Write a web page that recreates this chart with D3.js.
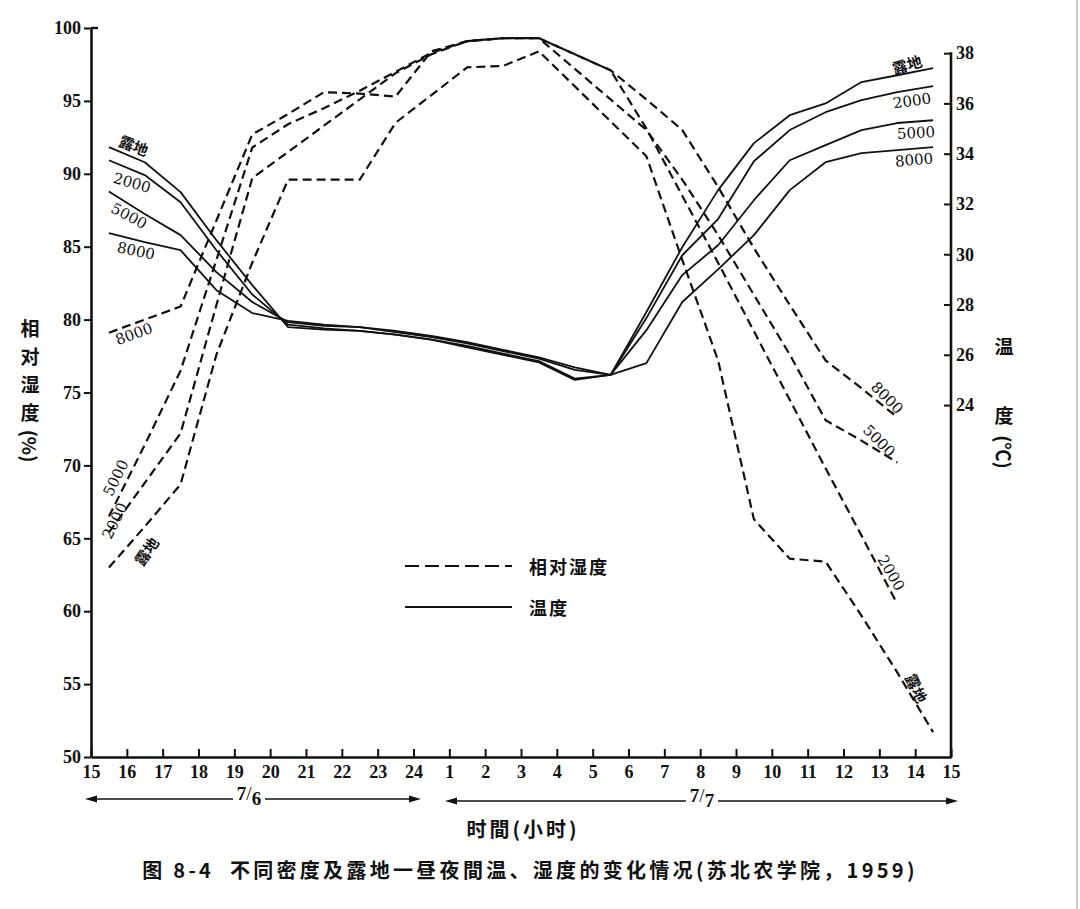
<!DOCTYPE html>
<html>
<head>
<meta charset="utf-8">
<script src="https://cdn.jsdelivr.net/npm/d3@7"></script>
<style>
  body { margin: 0; background: #fff; }
  svg { display: block; }
</style>
</head>
<body>
<div id="chart"></div>
<script>
// Observation times, hours after 15:00 on 7/6 (readings at half past each hour)
const hourOffsets = [0.5, 1.5, 2.5, 3.5, 4.5, 5.5, 6.5, 7.5, 8.5, 9.5, 10.5, 11.5,
                     12.5, 13.5, 14.5, 15.5, 16.5, 17.5, 18.5, 19.5, 20.5, 21.5, 22.5, 23.5];
const xTicks = [0, 1, 2, 3, 4, 5, 6, 7, 8, 9, 10, 11, 12, 13, 14, 15, 16, 17, 18, 19, 20, 21, 22, 23, 24];
const humTicks = [50, 55, 60, 65, 70, 75, 80, 85, 90, 95, 100];
const tempTicks = [24, 26, 28, 30, 32, 34, 36, 38];

// relative humidity (%), dashed
const humOpen = [63.0, 65.8, 68.7, 77.6, 83.9, 89.6, 89.6, 89.6, 93.5, 95.4, 97.3, 97.4,
                 98.4, 96.0, 93.6, 91.2, 84.1, 77.2, 66.3, 63.6, 63.4, 59.7, 55.8, 51.7];
const hum2000 = [65.4, 68.8, 72.2, 81.0, 89.7, 91.5, 93.3, 95.1, 96.9, 98.2, 99.1, 99.3,
                 99.3, 98.2, 97.1, 93.1, 88.5, 83.9, 79.2, 74.5, 69.8, 65.2, 60.5, null];
const hum5000 = [66.5, 71.4, 76.5, 84.1, 91.8, 93.4, 94.5, 95.7, 97.0, 98.3, 99.1, 99.3,
                 99.3, 97.2, 95.1, 93.0, 89.6, 85.8, 81.7, 77.6, 73.1, 71.7, 70.2, null];
const hum8000 = [79.1, 80.0, 80.9, 86.8, 92.7, 94.1, 95.6, 95.5, 95.3, 98.4, 99.1, 99.3,
                 99.3, 98.2, 97.1, 95.1, 93.0, 89.1, 84.9, 81.0, 77.2, 75.3, 73.3, null];

// temperature (°C), solid
const tempOpen = [34.26, 33.66, 32.47, 30.56, 28.77, 27.1, 27.0, 26.95, 26.8, 26.6, 26.3, 26.0,
                  25.7, 25.0, 25.2, 27.7, 30.28, 32.55, 34.42, 35.53, 36.0, 36.85, 37.12, 37.4];
const temp2000 = [33.74, 33.15, 32.07, 30.16, 28.4, 27.2, 27.05, 26.95, 26.8, 26.6, 26.35, 26.05,
                  25.75, 25.05, 25.2, 27.46, 29.96, 31.4, 33.7, 34.94, 35.65, 36.13, 36.45, 36.69];
const temp5000 = [32.5, 31.6, 30.76, 29.29, 28.1, 27.3, 27.15, 27.1, 26.9, 26.7, 26.45, 26.15,
                  25.85, 25.4, 25.2, 26.98, 29.17, 30.36, 32.15, 33.74, 34.34, 34.94, 35.22, 35.33];
const temp8000 = [30.84, 30.48, 30.16, 28.57, 27.66, 27.35, 27.2, 27.1, 26.95, 26.75, 26.5, 26.2,
                  25.9, 25.5, 25.2, 25.67, 28.1, 29.4, 30.76, 32.55, 33.66, 34.02, 34.14, 34.26];

const humiditySeries = [humOpen, hum2000, hum5000, hum8000];
const temperatureSeries = [tempOpen, temp2000, temp5000, temp8000];

// curve labels: [text, x, y, rotation]
const curveLabels = [
  ["露地", 134, 145, 22], ["2000", 132, 183, 16], ["5000", 129, 216, 28], ["8000", 136, 251, 12],
  ["8000", 134, 334, -20], ["5000", 116, 478, -64], ["2000", 115, 521, -64], ["露地", 146, 551, -55],
  ["露地", 907, 64, -16], ["2000", 912, 101, -8], ["5000", 916, 133, -3], ["8000", 914, 160, -5],
  ["8000", 887, 398, 45], ["5000", 879, 441, 45], ["2000", 891, 573, 60], ["露地", 917, 688, 65]
];

const serif = "'Liberation Serif', 'DejaVu Serif', serif";
const labelSerif = "'DejaVu Serif', 'Liberation Serif', serif";
const cjk = "'Noto Sans CJK SC', 'Noto Sans', sans-serif";
const ink = "#111";

const svg = d3.select("#chart").append("svg")
  .attr("width", 1080)
  .attr("height", 909)
  .style("background", "#fff");

const x = d3.scaleLinear().domain([0, 24]).range([91, 951]);
const yHum = d3.scaleLinear().domain([50, 100]).range([757, 28]);
const yTemp = d3.scaleLinear().domain([10, 39]).range([757, 28]);

function styleTicks(g) {
  g.selectAll(".tick line").attr("stroke", ink).attr("stroke-width", 2);
  g.selectAll(".tick text")
    .attr("fill", ink)
    .style("font-family", serif)
    .style("font-weight", "bold")
    .style("font-size", "18px");
}

// left axis (humidity)
svg.append("g")
  .attr("transform", "translate(91,0)")
  .call(d3.axisLeft(yHum).tickValues(humTicks).tickSize(7).tickPadding(3).tickSizeOuter(0))
  .call(g => g.select(".domain").attr("stroke", ink).attr("stroke-width", 2.6))
  .call(styleTicks);

svg.append("line")
  .attr("x1", 91).attr("x2", 98).attr("y1", yHum(100)).attr("y2", yHum(100))
  .attr("stroke", ink).attr("stroke-width", 2.4);

// bottom axis (time)
svg.append("g")
  .attr("transform", "translate(0,757)")
  .call(d3.axisBottom(x).tickValues(xTicks).tickSize(-8).tickPadding(8).tickSizeOuter(0)
    .tickFormat(h => ((14 + h) % 24) + 1))
  .call(g => g.select(".domain").attr("stroke", ink).attr("stroke-width", 2.6))
  .call(styleTicks);

// right axis (temperature)
svg.append("g")
  .attr("transform", "translate(951,0)")
  .call(d3.axisRight(yTemp).tickValues(tempTicks).tickSize(-7).tickPadding(5))
  .call(g => g.select(".domain").remove())
  .call(styleTicks);

svg.append("line")
  .attr("x1", 951).attr("x2", 951).attr("y1", yTemp(38) - 1).attr("y2", 758)
  .attr("stroke", ink).attr("stroke-width", 2.6);

// curves
const humLine = d3.line()
  .defined(d => d[1] != null)
  .x(d => x(d[0]))
  .y(d => yHum(d[1]));

const tempLine = d3.line()
  .defined(d => d[1] != null)
  .x(d => x(d[0]))
  .y(d => yTemp(d[1]));

svg.append("g")
  .selectAll("path")
  .data(temperatureSeries)
  .join("path")
  .attr("d", s => tempLine(hourOffsets.map((h, i) => [h, s[i]])))
  .attr("fill", "none")
  .attr("stroke", ink)
  .attr("stroke-width", 1.8)
  .attr("stroke-linejoin", "round");

svg.append("g")
  .selectAll("path")
  .data(humiditySeries)
  .join("path")
  .attr("d", s => humLine(hourOffsets.map((h, i) => [h, s[i]])))
  .attr("fill", "none")
  .attr("stroke", ink)
  .attr("stroke-width", 2.2)
  .attr("stroke-dasharray", "9,5");

// curve labels
svg.append("g")
  .selectAll("text")
  .data(curveLabels)
  .join("text")
  .attr("transform", d => `translate(${d[1]},${d[2]}) rotate(${d[3]})`)
  .attr("text-anchor", "middle")
  .attr("dominant-baseline", "central")
  .attr("fill", ink)
  .style("font-family", d => d[0] === "露地" ? cjk : labelSerif)
  .style("font-weight", d => d[0] === "露地" ? "bold" : "normal")
  .style("font-size", "15px")
  .text(d => d[0]);

// legend
const legend = svg.append("g").attr("transform", "translate(405,566)");
legend.append("line").attr("x1", 0).attr("x2", 107).attr("y1", 0).attr("y2", 0)
  .attr("stroke", ink).attr("stroke-width", 2.2).attr("stroke-dasharray", "14,6");
legend.append("line").attr("x1", 0).attr("x2", 107).attr("y1", 41).attr("y2", 41)
  .attr("stroke", ink).attr("stroke-width", 1.8);
legend.selectAll("text")
  .data(["相对湿度", "温度"])
  .join("text")
  .attr("x", 124)
  .attr("y", (d, i) => i * 41)
  .attr("dominant-baseline", "central")
  .attr("fill", ink)
  .style("font-family", cjk)
  .style("font-weight", "bold")
  .style("font-size", "18px")
  .style("letter-spacing", "2px")
  .text(d => d);

// axis titles
const leftTitle = svg.append("g").style("font-family", cjk).style("font-size", "19px")
  .style("font-weight", "bold").attr("fill", ink);
["相", "对", "湿", "度"].forEach((c, i) => {
  leftTitle.append("text").attr("x", 30).attr("y", 327 + i * 28)
    .attr("text-anchor", "middle").attr("dominant-baseline", "central").text(c);
});
leftTitle.append("text").attr("transform", "translate(30,446) rotate(90)")
  .attr("text-anchor", "middle").attr("dominant-baseline", "central").text("(%)");

const rightTitle = svg.append("g").style("font-family", cjk).style("font-size", "19px")
  .style("font-weight", "bold").attr("fill", ink);
rightTitle.append("text").attr("x", 1004).attr("y", 345)
  .attr("text-anchor", "middle").attr("dominant-baseline", "central").text("温");
rightTitle.append("text").attr("x", 1004).attr("y", 414)
  .attr("text-anchor", "middle").attr("dominant-baseline", "central").text("度");
rightTitle.append("text").attr("transform", "translate(1004,452) rotate(90)")
  .attr("text-anchor", "middle").attr("dominant-baseline", "central").text("(℃)");

// date arrows
function dateArrow(x1, x2, y, gap1, gap2, num, den, labelX) {
  const g = svg.append("g");
  g.append("line").attr("x1", x1 + 6).attr("x2", gap1).attr("y1", y).attr("y2", y)
    .attr("stroke", ink).attr("stroke-width", 1.6);
  g.append("line").attr("x1", gap2).attr("x2", x2 - 6).attr("y1", y).attr("y2", y)
    .attr("stroke", ink).attr("stroke-width", 1.6);
  g.append("path").attr("d", `M${x1},${y} L${x1 + 12},${y - 3.5} L${x1 + 12},${y + 3.5} Z`).attr("fill", ink);
  g.append("path").attr("d", `M${x2},${y} L${x2 - 12},${y - 3.5} L${x2 - 12},${y + 3.5} Z`).attr("fill", ink);
  const t = g.append("text").attr("x", labelX).attr("y", y + 4).attr("text-anchor", "middle")
    .attr("fill", ink).style("font-family", serif).style("font-weight", "bold").style("font-size", "19px");
  t.append("tspan").attr("dy", -3).text(num);
  t.append("tspan").attr("dy", 0).style("font-weight", "normal").text("/");
  t.append("tspan").attr("dy", 5).text(den);
}
dateArrow(85, 421, 799, 233, 265, "7", "6", 249);
dateArrow(445, 958, 801, 686, 718, "7", "7", 702);

// x-axis title and caption
svg.append("text").attr("x", 523).attr("y", 828)
  .attr("text-anchor", "middle").attr("dominant-baseline", "central")
  .attr("fill", ink).style("font-family", cjk).style("font-size", "20px").style("font-weight", "bold")
  .style("letter-spacing", "3px")
  .text("时間(小时)");

svg.append("text").attr("x", 530).attr("y", 869)
  .attr("text-anchor", "middle").attr("dominant-baseline", "central")
  .attr("fill", ink).style("font-family", cjk).style("font-size", "20px").style("font-weight", "bold")
  .style("letter-spacing", "3.3px")
  .style("white-space", "pre")
  .text("图 8-4  不同密度及露地一昼夜間温、湿度的变化情况(苏北农学院，1959)");

// scan border
svg.append("line").attr("x1", 1077).attr("x2", 1077).attr("y1", 0).attr("y2", 909)
  .attr("stroke", "#bbb").attr("stroke-width", 1.5);
</script>
</body>
</html>
